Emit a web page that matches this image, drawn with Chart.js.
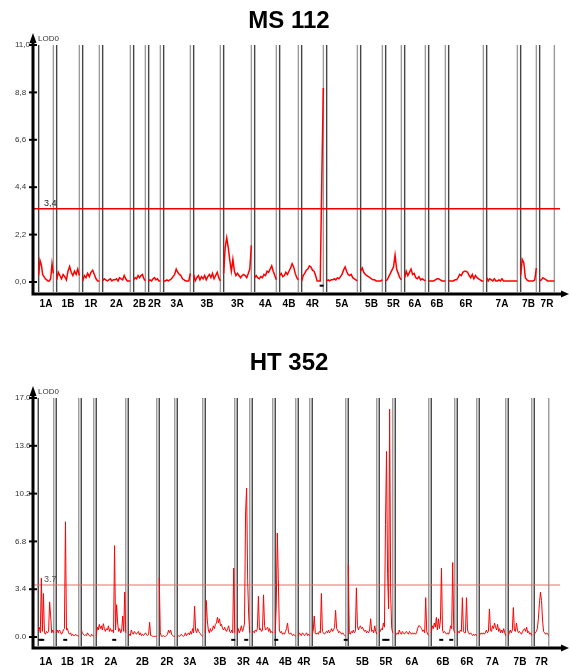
<!DOCTYPE html>
<html>
<head>
<meta charset="utf-8">
<script src="https://cdn.jsdelivr.net/npm/chart.js@4.4.1/dist/chart.umd.min.js"></script>
<style>
  html, body { margin: 0; padding: 0; background: #fff; }
  body { width: 570px; height: 667px; position: relative; overflow: hidden; font-family: "Liberation Sans", Arial, sans-serif; }
  .box { position: absolute; left: 0; width: 570px; }
  .title { position: absolute; left: 0; width: 578px; text-align: center; font-weight: bold; font-size: 24px; line-height: 24px; color: #000; }
</style>
</head>
<body>
<div class="box" style="top:0;height:333px"><canvas id="ms"></canvas></div>
<div class="box" style="top:333px;height:334px"><canvas id="ht"></canvas></div>
<div class="title" style="top:8px">MS 112</div>
<div class="title" style="top:350px">HT 352</div>
<script>
// chromosomes along the map
var chromosomes = ['1A', '1B', '1R', '2A', '2B', '2R', '3A', '3B', '3R', '4A', '4B', '4R',
    '5A', '5B', '5R', '6A', '6B', '6R', '7A', '7B', '7R'];

// map length of every chromosome (cM)
var msLengths = [14.7, 22.7, 16.7, 27.7, 11.7, 11.7, 26.7, 26.7, 27.7, 21.7, 18.7, 21.7,
    30.7, 21.7, 15.7, 20.7, 16.7, 34.7, 30.7, 15.7, 14.7];
var htLengths = [15.5, 22.5, 12.5, 29.5, 28.5, 15.5, 25.5, 29.5, 12.5, 20.5, 20.5, 11.5,
    33.5, 28.5, 13.5, 33.5, 23.5, 19.5, 26.5, 23.5, 14.5];

// LOD profile along each chromosome (evenly spaced scan positions)
var msLod = [
    [0.3, 1.0, 0.8, 0.35, 0.25, 0.15, 0.1, 0.05, 0.05, 0.15, 0.85, 0.4],
    [0.1, 0.45, 0.3, 0.15, 0.35, 0.25, 0.1, 0.5, 0.72, 0.45, 0.3, 0.5, 0.35, 0.6, 0.3],
    [0.05, 0.3, 0.2, 0.4, 0.25, 0.45, 0.55, 0.35, 0.15, 0.05, 0.05],
    [0.05, 0.15, 0.1, 0.05, 0.1, 0.15, 0.05, 0.1, 0.1, 0.15, 0.05, 0.2, 0.15, 0.1, 0.3, 0.15, 0.05, 0.05, 0.05],
    [0.1, 0.2, 0.15, 0.3, 0.2, 0.3, 0.35, 0.15, 0.05],
    [0.05, 0.1, 0.05, 0.15, 0.2, 0.1, 0.15, 0.05, 0.05],
    [0.05, 0.05, 0.1, 0.05, 0.1, 0.15, 0.25, 0.35, 0.6, 0.45, 0.35, 0.3, 0.15, 0.1, 0.05, 0.05, 0.05, 0.4],
    [0.35, 0.05, 0.2, 0.3, 0.1, 0.25, 0.15, 0.3, 0.1, 0.25, 0.35, 0.2, 0.4, 0.15, 0.3, 0.45, 0.2, 0.05],
    [0.4, 1.6, 2.05, 1.6, 1.0, 0.5, 1.05, 0.5, 0.3, 0.4, 0.3, 0.2, 0.3, 0.35, 0.3, 0.2, 0.4, 0.6, 1.7],
    [0.2, 0.3, 0.2, 0.15, 0.25, 0.2, 0.35, 0.3, 0.5, 0.45, 0.6, 0.75, 0.5, 0.3, 0.1],
    [0.3, 0.4, 0.25, 0.3, 0.45, 0.35, 0.5, 0.65, 0.85, 0.7, 0.4, 0.2, 0.1],
    [0.05, 0.3, 0.4, 0.55, 0.6, 0.75, 0.7, 0.55, 0.5, 0.3, 0.05, 0.05, 0.05, 4.8, 9.0],
    [0.05, 0.1, 0.05, 0.1, 0.1, 0.15, 0.1, 0.2, 0.15, 0.25, 0.35, 0.55, 0.7, 0.5, 0.35, 0.3, 0.35, 0.2, 0.15, 0.1, 0.05],
    [0.5, 0.65, 0.45, 0.35, 0.3, 0.25, 0.2, 0.15, 0.1, 0.1, 0.05, 0.05, 0.05, 0.05, 0.1],
    [0.05, 0.1, 0.25, 0.4, 0.55, 0.7, 1.25, 0.6, 0.4, 0.2, 0.1],
    [0.2, 0.5, 0.3, 0.45, 0.6, 0.35, 0.4, 0.2, 0.15, 0.25, 0.1, 0.15, 0.1, 0.05],
    [0.05, 0.05, 0.05, 0.05, 0.1, 0.15, 0.15, 0.1, 0.05, 0.05, 0.05],
    [0.05, 0.05, 0.05, 0.05, 0.1, 0.1, 0.2, 0.35, 0.3, 0.45, 0.5, 0.5, 0.45, 0.3, 0.2, 0.35, 0.15, 0.3, 0.2, 0.15, 0.1, 0.05, 0.05],
    [0.2, 0.05, 0.15, 0.1, 0.05, 0.15, 0.05, 0.05, 0.1, 0.05, 0.15, 0.05, 0.05, 0.05, 0.05, 0.05, 0.05, 0.05, 0.05, 0.05, 0.05],
    [0.3, 1.05, 0.9, 0.2, 0.1, 0.05, 0.05, 0.05, 0.05, 0.1, 0.65],
    [0.05, 0.1, 0.2, 0.15, 0.1, 0.05, 0.05, 0.05, 0.05, 0.05]
];
var htLod = [
    [0.5, 0.7, 0.3, 4.2, 0.4, 3.1, 0.3, 0.2, 0.4, 0.3, 0.4, 2.5, 1.5, 0.3, 0.5, 0.3],
    [0.3, 0.5, 0.3, 0.5, 0.4, 0.2, 0.3, 0.5, 0.6, 8.2, 0.5, 0.6, 0.3, 0.2, 0.3, 0.1, 0.2, 0.1, 0.1, 0.2, 0.1, 0.1, 0.05],
    [0.5, 0.3, 0.2, 0.1, 0.15, 0.1, 0.3, 0.15, 0.1, 0.05, 0.2, 0.1, 0.05],
    [0.1, 0.7, 0.5, 0.9, 0.6, 0.8, 0.5, 0.95, 0.6, 0.4, 0.6, 0.5, 0.8, 0.4, 0.6, 0.4, 0.5, 0.3, 6.5, 0.5, 2.3, 1.0, 0.4, 0.6, 0.3, 0.5, 1.5, 0.4, 3.2, 0.3],
    [0.05, 0.2, 0.1, 0.5, 0.3, 0.2, 0.4, 0.3, 0.2, 0.3, 0.4, 0.15, 0.3, 0.1, 0.2, 0.1, 0.2, 0.3, 0.15, 0.1, 0.2, 1.05, 0.1, 0.1, 0.05, 0.05, 0.05, 0.05, 0.05],
    [4.2, 0.3, 0.05, 0.05, 0.1, 0.05, 0.05, 0.1, 0.2, 0.5, 0.3, 0.5, 0.2, 0.1, 0.05, 0.05],
    [0.05, 0.1, 0.05, 0.1, 0.2, 0.1, 0.05, 0.1, 0.3, 0.1, 0.2, 0.3, 0.15, 0.4, 0.2, 0.6, 0.3, 2.2, 0.5, 0.3, 0.6, 0.4, 0.3, 0.2, 0.1, 0.05],
    [0.3, 2.6, 1.2, 0.5, 0.3, 0.6, 0.4, 0.5, 0.8, 0.6, 0.9, 1.0, 1.4, 1.0, 1.3, 0.8, 0.9, 0.6, 0.5, 0.7, 0.5, 0.4, 0.6, 0.8, 0.4, 0.3, 0.5, 0.3, 4.9, 0.3],
    [0.2, 0.6, 0.3, 0.5, 0.8, 0.4, 0.6, 1.0, 8.9, 10.6, 4.0, 1.5, 0.3],
    [0.3, 0.4, 0.3, 0.5, 0.4, 0.6, 2.9, 0.5, 0.6, 0.4, 0.5, 3.0, 0.8, 0.5, 0.6, 0.7, 0.4, 0.6, 0.3, 0.4, 0.3],
    [0.3, 2.3, 7.4, 4.1, 0.5, 0.3, 0.4, 0.2, 0.3, 0.2, 0.4, 0.6, 1.0, 0.3, 0.2, 0.3, 0.2, 0.1, 0.2, 0.1, 0.05],
    [0.1, 0.3, 0.2, 0.1, 0.3, 0.2, 0.1, 0.2, 0.3, 0.1, 0.2, 0.1],
    [0.2, 0.5, 1.5, 0.3, 0.2, 0.3, 0.2, 0.4, 0.3, 3.1, 0.4, 0.3, 0.2, 0.3, 0.4, 0.3, 0.5, 0.3, 0.4, 0.6, 0.4, 0.5, 0.7, 1.9, 0.6, 0.5, 0.3, 0.4, 0.3, 0.2, 0.3, 0.2, 0.1, 0.05],
    [5.1, 0.3, 0.2, 0.4, 0.3, 0.5, 0.3, 0.4, 3.5, 0.8, 0.5, 0.7, 0.8, 0.6, 0.7, 0.5, 0.4, 0.5, 0.3, 0.4, 0.3, 0.5, 1.3, 0.4, 0.5, 0.3, 0.8, 0.4, 0.2],
    [0.3, 0.4, 0.6, 0.5, 1.0, 0.7, 8.0, 13.2, 4.5, 2.0, 16.2, 3.0, 0.6, 0.3],
    [0.1, 0.2, 0.3, 0.2, 0.5, 0.3, 0.2, 0.4, 0.3, 0.2, 0.3, 0.4, 0.3, 0.2, 0.4, 0.3, 0.2, 0.3, 0.2, 0.3, 0.2, 0.3, 0.6, 0.8, 0.8, 0.7, 0.6, 0.4, 0.5, 0.3, 2.8, 0.4, 0.2, 0.1],
    [0.3, 0.8, 0.6, 1.0, 0.7, 1.4, 0.5, 1.3, 0.6, 1.2, 4.9, 0.5, 0.3, 0.4, 0.3, 0.2, 0.3, 0.2, 0.4, 0.8, 0.6, 5.3, 0.5, 0.3],
    [0.2, 0.4, 0.3, 0.5, 0.4, 2.8, 0.4, 0.3, 0.3, 2.8, 0.5, 0.3, 0.2, 0.3, 0.2, 0.1, 0.2, 0.1, 0.2, 0.1],
    [0.1, 0.2, 0.3, 0.2, 0.3, 0.2, 0.3, 0.5, 0.3, 0.4, 2.0, 0.5, 0.4, 0.8, 0.6, 1.0, 0.7, 0.5, 0.9, 0.4, 0.6, 0.3, 0.5, 0.3, 0.6, 0.3, 0.1],
    [0.1, 0.3, 0.5, 0.3, 0.5, 2.1, 0.5, 0.4, 1.0, 0.5, 0.3, 0.4, 0.3, 0.2, 0.4, 0.5, 0.6, 0.4, 0.7, 0.3, 0.4, 0.2, 0.3, 0.1],
    [0.2, 0.3, 0.4, 0.6, 1.3, 2.4, 3.2, 2.6, 1.2, 0.4, 0.3, 0.2, 0.3, 0.2, 0.1]
];

// y axis ticks and significance thresholds
var msTicks = [0, 2.2, 4.4, 6.6, 8.8, 11];
var htTicks = [0, 3.4, 6.8, 10.2, 13.6, 17];
var msThreshold = 3.4;
var htThreshold = 3.7;

// markers under the peaks: [chromosome index, position in cM]
var msMarkers = [[11, 20]];
var htMarkers = [[0, 2], [0, 4], [1, 9], [3, 18], [7, 28], [8, 9], [10, 1], [12, 33.5],
    [14, 5], [14, 8.2], [16, 10], [16, 20]];

Chart.defaults.font.family = '"Liberation Sans", Arial, sans-serif';

var mapPlugin = {
    id: 'mapPlugin',
    beforeDatasetsDraw: function (chart, args, o) {
        var ctx = chart.ctx, xs = chart.scales.x, a = chart.chartArea;
        ctx.save();
        ctx.lineWidth = 1.4;
        o.starts.forEach(function (s, i) {
            [[s, '#444'], [s + o.lengths[i], '#9a9a9a']].forEach(function (p) {
                var px = xs.getPixelForValue(p[0]);
                ctx.strokeStyle = p[1];
                ctx.beginPath();
                ctx.moveTo(px, a.top);
                ctx.lineTo(px, a.bottom - 2);
                ctx.stroke();
            });
        });
        ctx.restore();
    },
    afterDraw: function (chart, args, o) {
        var ctx = chart.ctx, ys = chart.scales.y, a = chart.chartArea;
        var y0 = a.bottom;
        ctx.save();
        ctx.strokeStyle = '#000';
        ctx.fillStyle = '#000';
        ctx.lineWidth = 3;
        ctx.beginPath();
        ctx.moveTo(a.left - 1.5, y0);
        ctx.lineTo(a.right + 2, y0);
        ctx.moveTo(a.left, y0);
        ctx.lineTo(a.left, a.top - 3);
        ctx.stroke();
        ctx.beginPath();
        ctx.moveTo(a.left, a.top - 12);
        ctx.lineTo(a.left - 3.5, a.top - 2);
        ctx.lineTo(a.left + 3.5, a.top - 2);
        ctx.closePath();
        ctx.fill();
        ctx.beginPath();
        ctx.moveTo(a.right + 9, y0);
        ctx.lineTo(a.right + 1, y0 - 3.5);
        ctx.lineTo(a.right + 1, y0 + 3.5);
        ctx.closePath();
        ctx.fill();

        ctx.lineWidth = 2;
        ys.ticks.forEach(function (t) {
            var py = ys.getPixelForValue(t.value);
            ctx.beginPath();
            ctx.moveTo(a.left - 4, py);
            ctx.lineTo(a.left + 4, py);
            ctx.stroke();
        });

        ctx.fillStyle = '#333';
        ctx.font = '8px "Liberation Sans", Arial, sans-serif';
        ctx.textBaseline = 'middle';
        ctx.textAlign = 'left';
        ctx.fillText('LOD0', a.left + 5, a.top - 6);

        ctx.fillStyle = o.thresholdColor;
        ctx.font = '9px "Liberation Sans", Arial, sans-serif';
        ctx.textBaseline = 'alphabetic';
        ctx.fillText(o.fmt(o.threshold), a.left + 11, ys.getPixelForValue(o.threshold) - 3);
        ctx.restore();
    }
};

function mapStarts(lengths, lead, gap) {
    var starts = [], s = lead;
    lengths.forEach(function (l) {
        starts.push(s);
        s += l + gap;
    });
    return starts;
}

function makeChart(id, c) {
    var starts = mapStarts(c.lengths, c.lead, c.gap);
    var centers = starts.map(function (s, i) { return s + c.lengths[i] / 2; });
    var trace = [];
    c.lod.forEach(function (vals, k) {
        var step = c.lengths[k] / (vals.length - 1);
        vals.forEach(function (v, i) {
            trace.push({x: starts[k] + i * step, y: v});
        });
        trace.push({x: starts[k] + c.lengths[k] + 0.2, y: null});
    });
    var marks = c.markers.map(function (m) {
        return {x: starts[m[0]] + m[1], y: c.markerLevel};
    });
    var xMax = 527;

    return new Chart(document.getElementById(id), {
        type: 'line',
        data: {
            datasets: [{
                label: 'LOD',
                data: trace,
                borderColor: c.traceColor,
                borderWidth: c.traceWidth,
                pointRadius: 0,
                tension: 0,
                spanGaps: false
            }, {
                label: 'threshold',
                data: [{x: 0, y: c.threshold}, {x: xMax, y: c.threshold}],
                borderColor: c.thresholdColor,
                borderWidth: c.thresholdWidth,
                pointRadius: 0
            }, {
                label: 'markers',
                data: marks,
                showLine: false,
                pointStyle: 'line',
                pointRadius: 2,
                pointBorderWidth: 2,
                borderColor: '#000',
                backgroundColor: '#000'
            }]
        },
        options: {
            responsive: true,
            maintainAspectRatio: false,
            animation: false,
            layout: {padding: {top: c.top, right: 10, left: 15, bottom: 0}},
            plugins: {
                legend: {display: false},
                tooltip: {enabled: false},
                mapPlugin: {
                    starts: starts,
                    lengths: c.lengths,
                    threshold: c.threshold,
                    thresholdColor: c.labelColor,
                    fmt: c.fmt
                }
            },
            scales: {
                x: {
                    type: 'linear',
                    min: 0,
                    max: xMax,
                    afterBuildTicks: function (s) {
                        s.ticks = centers.map(function (v) { return {value: v}; });
                    },
                    afterFit: function (s) { s.height = c.axisHeight; },
                    grid: {display: false, drawTicks: false},
                    border: {display: false},
                    ticks: {
                        autoSkip: false,
                        maxRotation: 0,
                        padding: c.labelPad,
                        color: '#000',
                        font: {size: 10, weight: 'bold'},
                        callback: function (v, i) { return chromosomes[i]; }
                    }
                },
                y: {
                    min: c.yMin,
                    max: c.ticks[c.ticks.length - 1],
                    afterBuildTicks: function (s) {
                        s.ticks = c.ticks.map(function (v) { return {value: v}; });
                    },
                    afterFit: function (s) { s.width = 18; },
                    grid: {display: false, drawTicks: false},
                    border: {display: false},
                    ticks: {
                        crossAlign: 'far',
                        color: '#333',
                        font: {size: 8},
                        callback: function (v) { return c.fmt(v); }
                    }
                }
            }
        },
        plugins: [mapPlugin]
    });
}

makeChart('ms', {
    lengths: msLengths, lod: msLod, ticks: msTicks, threshold: msThreshold, markers: msMarkers,
    lead: 5.65, gap: 3.3, top: 45, axisHeight: 39, labelPad: 4, yMin: -0.557, markerLevel: -0.17,
    traceColor: '#ff0000', traceWidth: 1.5, thresholdColor: '#ee0000', thresholdWidth: 1.5,
    labelColor: '#222',
    fmt: function (v) { return v.toFixed(1).replace('.', ','); }
});

makeChart('ht', {
    lengths: htLengths, lod: htLod, ticks: htTicks, threshold: htThreshold, markers: htMarkers,
    lead: 5.25, gap: 2.5, top: 65, axisHeight: 19, labelPad: 8, yMin: -0.78, markerLevel: -0.2,
    traceColor: '#ff0000', traceWidth: 1, thresholdColor: '#f06a6a', thresholdWidth: 1,
    labelColor: '#555',
    fmt: function (v) { return v.toFixed(1); }
});
</script>
</body>
</html>
